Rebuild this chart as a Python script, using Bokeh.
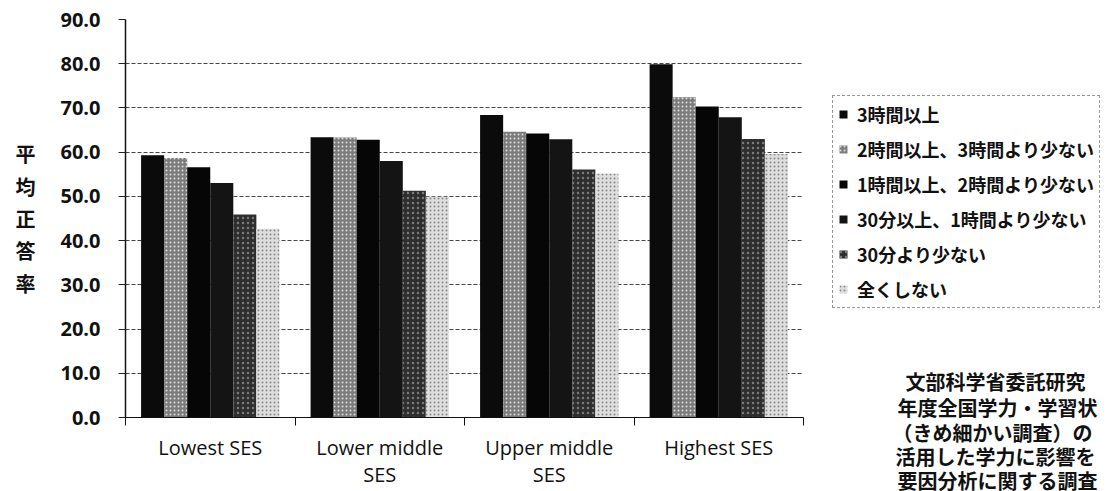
from bokeh.plotting import figure
from bokeh.layouts import row
from bokeh.models import (Range1d, FixedTicker, Legend, LegendItem, ColumnDataSource)
from bokeh.core.properties import value
from bokeh.embed import file_html
from bokeh.resources import INLINE

# ---- data ----
categories = ["Lowest SES", "Lower middle SES", "Upper middle SES", "Highest SES"]
x_tick_labels = ["Lowest SES", "Lower middle\nSES", "Upper middle\nSES", "Highest SES"]
series_names = ["3時間以上", "2時間以上、3時間より少ない", "1時間以上、2時間より少ない",
                "30分以上、1時間より少ない", "30分より少ない", "全くしない"]
s1 = [59.3, 63.4, 68.4, 79.9]
s2 = [58.7, 63.3, 64.6, 72.4]
s3 = [56.6, 62.8, 64.2, 70.3]
s4 = [53.0, 58.0, 62.9, 67.9]
s5 = [45.9, 51.3, 56.1, 63.0]
s6 = [42.7, 49.9, 55.2, 59.6]
series_values = [s1, s2, s3, s4, s5, s6]
y_ticks = [0, 10, 20, 30, 40, 50, 60, 70, 80, 90]
y_tick_labels = ["0.0", "10.0", "20.0", "30.0", "40.0", "50.0", "60.0", "70.0", "80.0", "90.0"]
y_title = "平均正答率"
caption_lines = ["文部科学省委託研究", "年度全国学力・学習状", "（きめ細かい調査）の",
                 "活用した学力に影響を", "要因分析に関する調査"]

# ---- styles ----
fills = ["#0b0b0b", "#7c7c7c", "#060606", "#141414", "#2e2e2e", "#dedede"]
hatches = [None, "dot", None, None, "dot", "dot"]
hatch_colors = [None, "#dcdcdc", None, None, "#7a7a7a", "#8a8a8a"]
hatch_scales = [12, 4, 12, 12, 5, 4]

H = 491
W1 = 810
W2 = 1107 - W1

p = figure(width=W1, height=H, output_backend="svg", toolbar_location=None,
           x_range=Range1d(0, len(categories)), y_range=Range1d(0, 90),
           min_border_left=125, min_border_right=W1 - 803, min_border_top=19, min_border_bottom=72)
p.outline_line_color = None

# grid
p.xgrid.grid_line_color = None
p.ygrid.ticker = FixedTicker(ticks=y_ticks)
p.ygrid.grid_line_color = "#444444"
p.ygrid.grid_line_dash = "4 2"
p.ygrid.grid_line_width = 1

# y axis
p.yaxis.ticker = FixedTicker(ticks=y_ticks)
p.yaxis.major_label_overrides = {t: s for t, s in zip(y_ticks, y_tick_labels)}
p.yaxis.major_label_text_font = "Open Sans"
p.yaxis.major_label_text_font_style = "bold"
p.yaxis.major_label_text_font_size = "20px"
p.yaxis.major_label_text_color = "#111111"
p.yaxis.major_label_standoff = 18
p.yaxis.major_tick_out = 7
p.yaxis.major_tick_in = 0
p.yaxis.minor_tick_line_color = None
p.yaxis.axis_line_color = "#111111"
p.yaxis.axis_line_width = 1.5
p.yaxis.major_tick_line_color = "#222222"
p.yaxis.axis_label = "\n".join(y_title)
p.yaxis.axis_label_text_font = "Noto Sans CJK JP"
p.yaxis.axis_label_text_font_style = "bold"
p.yaxis.axis_label_text_font_size = "20px"
p.yaxis.axis_label_text_color = "#111111"
p.yaxis.axis_label_text_line_height = 1.12
p.yaxis.axis_label_standoff = 22
try:
    p.yaxis.axis_label_orientation = "horizontal"
except Exception:
    pass

# x axis: labels at category centres, ticks at category boundaries (minor ticks)
centres = [i + 0.5 for i in range(len(categories))]
p.xaxis.ticker = FixedTicker(ticks=centres, minor_ticks=list(range(len(categories) + 1)))
p.xaxis.major_label_overrides = {c: t for c, t in zip(centres, x_tick_labels)}
p.xaxis.major_label_text_font = "Open Sans"
p.xaxis.major_label_text_font_size = "20px"
p.xaxis.major_label_text_color = "#111111"
p.xaxis.major_label_text_line_height = 1.03
p.xaxis.major_label_standoff = 8
p.xaxis.major_tick_line_color = None
p.xaxis.major_tick_out = 8
p.xaxis.minor_tick_out = 8
p.xaxis.minor_tick_in = 0
p.xaxis.minor_tick_line_color = "#111111"
p.xaxis.axis_line_color = "#111111"

# bars
n = len(series_values)
bw = 0.136


def bar_style(j):
    kw = dict(fill_color=fills[j], line_color=None)
    if hatches[j]:
        kw.update(hatch_pattern=hatches[j], hatch_color=hatch_colors[j],
                  hatch_scale=hatch_scales[j], hatch_weight=1)
    return kw


for j, vals in enumerate(series_values):
    xs = [c + (j - (n - 1) / 2) * bw for c in centres]
    src = ColumnDataSource(dict(x=xs, top=vals, cat=categories))
    p.vbar(x="x", top="top", width=bw, bottom=0, source=src, **bar_style(j))

# ---- right panel: legend and caption ----
TOP2 = 73
q = figure(width=W2, height=H, output_backend="svg", toolbar_location=None,
           x_range=Range1d(0, W2), y_range=Range1d(H, TOP2),
           x_axis_type=None, y_axis_type=None,
           min_border=0, min_border_left=0, min_border_right=0,
           min_border_top=TOP2, min_border_bottom=0)
q.outline_line_color = None
q.grid.grid_line_color = None

for fig in (p, q):
    try:
        fig.frame_align = False
    except Exception:
        pass

# zero-size proxies so that the legend can show each series' swatch
legend_renderers = []
for j in range(n):
    src = ColumnDataSource(dict(x=[0], top=[0]))
    legend_renderers.append(q.vbar(x="x", top="top", width=0, bottom=0, source=src, **bar_style(j)))

legend = Legend(items=[LegendItem(label=nm, renderers=[r]) for nm, r in zip(series_names, legend_renderers)],
                location="top_left")
legend.label_text_font = "Noto Sans CJK JP"
legend.label_text_font_style = "bold"
legend.label_text_font_size = "18px"
legend.label_text_color = "#111111"
legend.label_height = 20
legend.label_standoff = 9
legend.glyph_width = 10
legend.glyph_height = 10
legend.spacing = 9
legend.padding = 5
legend.margin = 22
legend.border_line_color = "#333333"
legend.border_line_dash = "2 2"
legend.border_line_width = 1
legend.background_fill_color = "white"
legend.background_fill_alpha = 1
q.add_layout(legend)

cap_src = ColumnDataSource(dict(x=[95, 87, 82, 85, 87], y=[381, 407, 432, 456, 480], text=caption_lines))
q.text(x="x", y="y", text="text", source=cap_src, text_align="left", text_baseline="middle",
       text_font=value("Noto Sans CJK JP"), text_font_style="bold", text_font_size="20px",
       text_color="#111111")

layout = row(p, q)
open("out.html", "w").write(file_html(layout, INLINE))
